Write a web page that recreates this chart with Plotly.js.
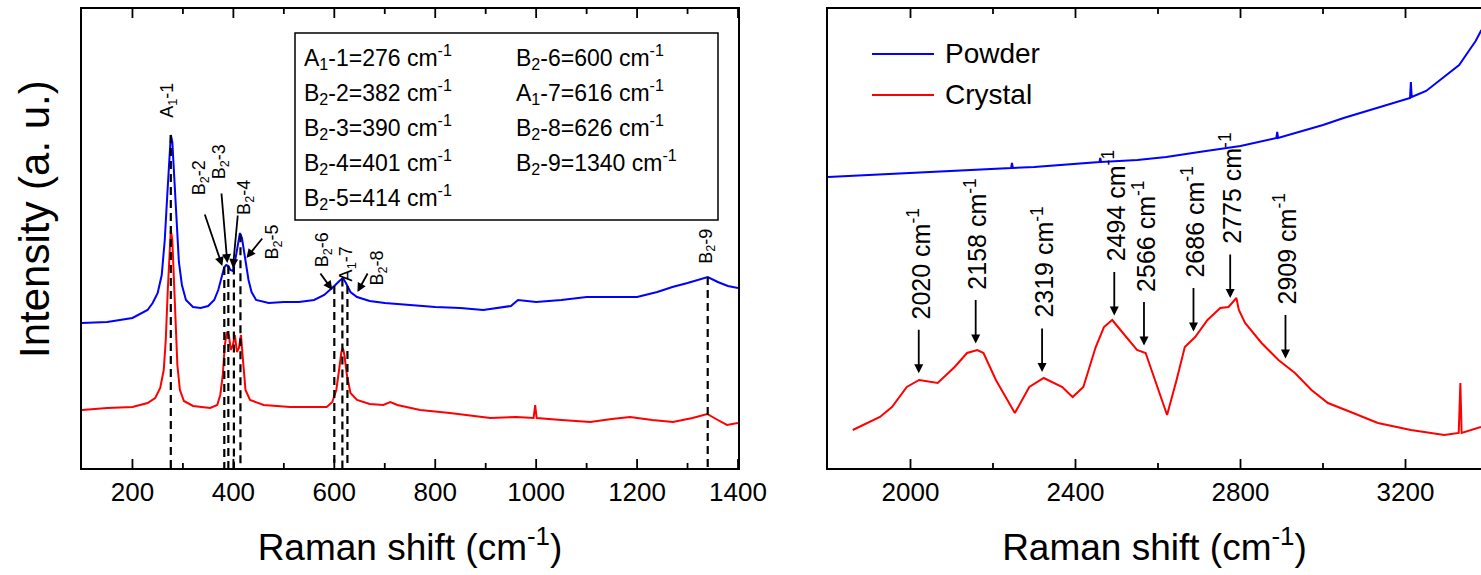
<!DOCTYPE html>
<html><head><meta charset="utf-8">
<script src="https://cdn.plot.ly/plotly-3.0.1.min.js"></script>
<style>html,body{margin:0;padding:0;background:#fff}#chart{width:1481px;height:575px}</style>
</head><body><div id="chart"></div>
<script>
// ---------------- DATA (arbitrary intensity units) ----------------
const powderLowX = [100,150,200,230,240,250,258,264,269,273,276,279,283,287,292,298,306,320,335,350,362,370,377,382,386,390,394,399,403,408,413,417,421,425,430,436,445,470,500,530,560,580,592,602,610,617,623,632,645,670,700,750,800,850,895,950,964,1000,1050,1100,1150,1200,1240,1270,1300,1320,1340,1360,1380,1400];
const powderLowY = [145,146,150,158,165,175,193,228,273,313,333,326,288,243,206,183,168,161,160,162,168,178,193,201,203,202,198,197,206,223,235,230,218,205,188,176,168,165,166,166,168,173,178,183,187,190,185,176,171,167,165,163,161,160,158,162,168,166,168,171,171,171,176,181,185,188,191,186,182,180];

const crystalLowX = [100,150,200,230,245,255,262,266,270,273,276,279,282,285,289,294,302,320,354,368,374,379,383,387,391,395,399,403,407,411,415,419,424,433,460,512,550,585,596,604,610,614,617,620,625,632,645,670,697,711,725,770,829,880,909,960,995,998,1001,1050,1107,1150,1186,1230,1271,1310,1339,1360,1378,1400];
const crystalLowY = [58,60,61,65,70,80,98,128,178,218,238,228,193,148,103,78,67,62,60,63,73,93,123,136,133,118,123,133,116,120,133,108,78,68,63,61,61,61,66,78,100,116,120,113,93,75,68,64,63,66,63,58,55,52,50,51,50,63,50,48,46,49,51,48,46,50,54,48,43,45];

const powderHighX = [1800,1900,2000,2100,2200,2244,2246,2248,2300,2400,2458,2460,2462,2550,2620,2700,2800,2887,2889,2891,2950,3000,3050,3100,3150,3200,3211,3213,3215,3250,3300,3330,3350,3370,3384];
const powderHighY = [291,293,295,297,299,300,305,300,301,304,306,310,306,308,311,316,322,330,336,330,337,343,350,356,362,368,370,386,371,377,393,403,415,427,438];

const crystalHighX = [1860,1926,1955,1991,2021,2066,2107,2137,2162,2177,2207,2253,2288,2323,2368,2393,2419,2449,2469,2489,2509,2549,2570,2600,2622,2645,2665,2690,2720,2751,2771,2790,2796,2811,2851,2892,2932,2972,3012,3073,3133,3213,3294,3329,3333,3336,3383];
const crystalHighY = [38,51,61,81,88,85,101,115,118,115,88,55,81,90,81,71,81,121,141,148,138,118,115,78,53,88,121,131,148,160,161,170,158,145,125,108,95,78,65,55,45,38,33,35,85,35,41];

// mode assignments (left panel)
const modeNames  = ['A<sub>1</sub>-1','B<sub>2</sub>-2','B<sub>2</sub>-3','B<sub>2</sub>-4','B<sub>2</sub>-5','B<sub>2</sub>-6','A<sub>1</sub>-7','B<sub>2</sub>-8','B<sub>2</sub>-9'];
const modeShifts = [276,382,390,401,414,600,616,626,1340];

// band positions (right panel)
const bandShifts = [2020,2158,2319,2494,2566,2686,2775,2909];

// tick positions
const lowMajorTicks  = [200,400,600,800,1000,1200,1400];
const lowMinorTicks  = [300,500,700,900,1100,1300];
const highMajorTicks = [2000,2400,2800,3200];
const highMinorTicks = [2200,2600,3000];

// ---------------- helpers ----------------
function interp(xs, ys, x){
  for(let i=0;i<xs.length-1;i++){
    if(x>=xs[i] && x<=xs[i+1]){const t=(x-xs[i])/(xs[i+1]-xs[i]);return ys[i]+t*(ys[i+1]-ys[i]);}
  }
  return x<xs[0]?ys[0]:ys[ys.length-1];
}
const W=1481,H=575,mT=9,mB=107,plotH=H-mT-mB;
const YMAX = 459;
const PX = p => p/W;
const PY = p => (H-mB-p)/plotH;
const FONT = 'Liberation Sans, Arial, sans-serif';
const BLUE='#0000ff', RED='#ff0000';

// ---------------- traces ----------------
const traces = [
  {x:powderLowX, y:powderLowY, xaxis:'x', yaxis:'y', mode:'lines', line:{color:BLUE,width:2}, name:'Powder', showlegend:false, hoverinfo:'skip'},
  {x:crystalLowX, y:crystalLowY, xaxis:'x', yaxis:'y', mode:'lines', line:{color:RED,width:2}, name:'Crystal', showlegend:false, hoverinfo:'skip'},
  {x:powderHighX, y:powderHighY, xaxis:'x2', yaxis:'y2', mode:'lines', line:{color:BLUE,width:2}, name:'Powder', showlegend:false, hoverinfo:'skip'},
  {x:crystalHighX, y:crystalHighY, xaxis:'x2', yaxis:'y2', mode:'lines', line:{color:RED,width:2}, name:'Crystal', showlegend:false, hoverinfo:'skip'}
];
// dashed drop lines at each assigned mode, from the powder curve down to the axis
const dx=[], dy=[];
modeShifts.forEach(s=>{dx.push(s,s,null);dy.push(interp(powderLowX,powderLowY,s),0,null);});
traces.push({x:dx,y:dy,xaxis:'x',yaxis:'y',mode:'lines',line:{color:'black',width:2.2,dash:'8px,5px'},showlegend:false,hoverinfo:'skip'});

// inward tick marks (bottom and top) drawn from the tick-position arrays
function tickTrace(major, minor, xa, ya){
  const tx=[], ty=[];
  const add=(v,len)=>{tx.push(v,v,null,v,v,null);ty.push(0,len,null,YMAX-len,YMAX,null);};
  major.forEach(v=>add(v,9)); minor.forEach(v=>add(v,5));
  return {x:tx,y:ty,xaxis:xa,yaxis:ya,mode:'lines',line:{color:'black',width:1.8},showlegend:false,hoverinfo:'skip',cliponaxis:false};
}
traces.push(tickTrace(lowMajorTicks,lowMinorTicks,'x','y'));
traces.push(tickTrace(highMajorTicks,highMinorTicks,'x2','y2'));

// ---------------- annotations ----------------
const ann = [];
const labelCfg = [
  {dx:-3, y:368},
  {dx:-24,y:290, arrow:{hdx:-2, hy:202, ax:-18, ay:-53}},
  {dx:-8, y:306, arrow:{hdx:-1, hy:205, ax:-6,  ay:-71}},
  {dx:11, y:271, arrow:{hdx:-1, hy:200, ax:5,   ay:-54}},
  {dx:33, y:226, arrow:{hdx:6,  hy:210, ax:17,  ay:-21}},
  {dx:-11,y:218, arrow:{hdx:-2, hy:178, ax:-13, ay:-18}},
  {dx:5,  y:204},
  {dx:31, y:200, arrow:{hdx:10, hy:176, ax:11,  ay:-20}},
  {dx:-1, y:222}
];
modeShifts.forEach((s,i)=>{
  const c=labelCfg[i];
  ann.push({xref:'x',yref:'y',x:s,y:c.y,xshift:c.dx,text:modeNames[i],textangle:-90,showarrow:false,
    xanchor:'center',yanchor:'middle',font:{family:FONT,size:18,color:'black'}});
  if(c.arrow){
    ann.push({xref:'x',yref:'y',x:s,y:c.arrow.hy,xshift:c.arrow.hdx,text:'',showarrow:true,
      ax:c.arrow.ax,ay:c.arrow.ay,arrowhead:2,arrowsize:1,arrowwidth:1.8,arrowcolor:'black',standoff:0});
  }
});
// boxed table of assignments
const tableLeft = [0,1,2,3,4], tableRight=[5,6,7,8];
const rowY = [57,92,127,162,197];
tableLeft.forEach((k,r)=>ann.push({xref:'paper',yref:'paper',x:PX(302),y:PY(rowY[r]),xanchor:'left',yanchor:'middle',
  text:modeNames[k]+'='+modeShifts[k]+' cm<sup>-1</sup>',showarrow:false,font:{family:FONT,size:23,color:'black'}}));
tableRight.forEach((k,r)=>ann.push({xref:'paper',yref:'paper',x:PX(514),y:PY(rowY[r]),xanchor:'left',yanchor:'middle',
  text:modeNames[k]+'='+modeShifts[k]+' cm<sup>-1</sup>',showarrow:false,font:{family:FONT,size:23,color:'black'}}));

// right panel bands
bandShifts.forEach(b=>{
  const head = interp(crystalHighX,crystalHighY,b)+7;
  ann.push({xref:'x2',yref:'y2',x:b,y:head,text:'',showarrow:true,ax:0,ay:-45,arrowhead:2,arrowsize:1,arrowwidth:1.8,arrowcolor:'black',standoff:0});
  ann.push({xref:'x2',yref:'y2',x:b,y:head,yshift:52,text:b+' cm<sup>-1</sup>',textangle:-90,showarrow:false,
    xanchor:'center',yanchor:'bottom',font:{family:FONT,size:25,color:'black'}});
});
// y title
ann.push({xref:'paper',yref:'paper',x:PX(34),y:PY(219),xanchor:'center',yanchor:'middle',textangle:-90,
  text:'Intensity (a. u.)',showarrow:false,font:{family:FONT,size:42,color:'black'}});
// legend (right panel)
ann.push({xref:'paper',yref:'paper',x:PX(943),y:PY(54),xanchor:'left',yanchor:'middle',text:'Powder',showarrow:false,font:{family:FONT,size:28,color:'black'}});
ann.push({xref:'paper',yref:'paper',x:PX(943),y:PY(95),xanchor:'left',yanchor:'middle',text:'Crystal',showarrow:false,font:{family:FONT,size:28,color:'black'}});

const shapes = [
  {type:'rect',xref:'paper',yref:'paper',x0:PX(295),x1:PX(718),y0:PY(220),y1:PY(33),line:{color:'black',width:1.5}},
  {type:'line',xref:'paper',yref:'paper',x0:PX(872),x1:PX(934),y0:PY(54),y1:PY(54),line:{color:BLUE,width:2}},
  {type:'line',xref:'paper',yref:'paper',x0:PX(872),x1:PX(934),y0:PY(95),y1:PY(95),line:{color:RED,width:2}}
];

const axBase = {showline:true,linecolor:'black',linewidth:2,ticks:'',showgrid:false,zeroline:false,
  tickfont:{family:FONT,size:26,color:'black'}};
const layout = {
  width:W,height:H,margin:{l:0,r:0,t:mT,b:mB},paper_bgcolor:'white',plot_bgcolor:'white',showlegend:false,
  xaxis:Object.assign({},axBase,{domain:[PX(82),PX(738)],range:[100,1400],tickmode:'array',tickvals:lowMajorTicks,mirror:true,anchor:'y',
    title:{text:'Raman shift (cm<sup>-1</sup>)',font:{family:FONT,size:37,color:'black'},standoff:28}}),
  yaxis:{domain:[0,1],range:[0,YMAX],showline:true,linecolor:'black',linewidth:2,mirror:true,ticks:'',showticklabels:false,
    showgrid:false,zeroline:false,anchor:'x'},
  xaxis2:Object.assign({},axBase,{domain:[PX(828),1],range:[1800,3383],tickmode:'array',tickvals:highMajorTicks,mirror:true,anchor:'y2',
    title:{text:'Raman shift (cm<sup>-1</sup>)',font:{family:FONT,size:37,color:'black'},standoff:28}}),
  yaxis2:{domain:[0,1],range:[0,YMAX],showline:true,linecolor:'black',linewidth:2,mirror:false,ticks:'',showticklabels:false,
    showgrid:false,zeroline:false,anchor:'x2'},
  annotations:ann,shapes:shapes
};
Plotly.newPlot('chart',traces,layout,{displayModeBar:false});
</script></body></html>
